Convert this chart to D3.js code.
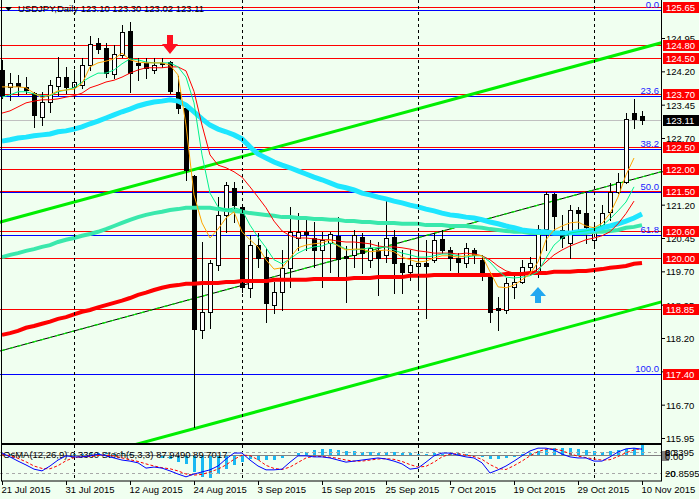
<!DOCTYPE html>
<html><head><meta charset="utf-8">
<script src="https://cdn.jsdelivr.net/npm/d3@7/dist/d3.min.js"></script>
<style>
html,body{margin:0;padding:0;background:#f0fff0;overflow:hidden;}
svg{display:block;}
</style></head><body>
<svg id="chart" width="699" height="499"></svg>
<script>
// ---------------- DATA ----------------
const titleText = "USDJPY,Daily 123.10 123.30 123.02 123.11";
const panelText = "OsMA(12,26,9) 0.3360 Stoch(5,3,3) 87.9490 89.7017";

const dateLabels = ["21 Jul 2015","31 Jul 2015","12 Aug 2015","24 Aug 2015","3 Sep 2015","15 Sep 2015","25 Sep 2015","7 Oct 2015","19 Oct 2015","29 Oct 2015","10 Nov 2015"];
const dateTickBars = [0,8,16,24,32,40,48,56,64,72,80];
const separatorBars = [9,30,52,74];

const open = [124.23,123.85,123.93,123.85,123.71,123.17,123.51,123.87,124.07,123.85,
123.89,124.34,124.84,124.72,124.14,124.57,125.11,124.39,124.39,124.23,
124.39,124.41,123.73,123.37,121.85,118.38,118.78,119.84,120.97,121.57,
121.15,119.33,120.29,120.02,118.95,119.24,119.78,120.45,120.58,120.45,
120.18,120.34,120.49,120.05,120.07,120.47,119.95,120.18,120.07,120.47,
119.89,119.69,119.82,119.89,119.95,120.43,120.18,120.00,119.89,120.18,
119.95,119.66,118.87,118.83,119.35,119.46,119.80,119.66,120.65,121.44,
120.63,120.34,121.08,121.01,120.40,120.70,121.03,121.49,121.71,123.26,
123.19];
const high = [124.45,124.16,124.12,124.07,123.73,123.73,124.00,124.52,124.30,124.23,
124.50,125.00,124.95,124.84,124.79,125.24,125.31,124.50,124.50,124.50,
124.50,124.43,124.10,123.40,121.87,120.36,119.95,121.37,121.71,121.71,
121.20,120.52,120.56,120.22,119.46,120.18,121.15,121.01,120.85,120.81,
120.58,120.58,120.92,120.27,120.63,120.56,120.40,120.36,121.30,120.63,
120.18,120.18,120.56,120.40,120.56,120.63,120.25,120.11,120.34,120.22,
120.07,119.69,119.12,119.55,119.66,119.95,120.02,120.74,121.49,121.46,
120.97,121.19,121.15,121.46,120.79,121.19,121.69,121.91,123.26,123.58,
123.30];
const low = [123.60,123.55,123.67,123.71,122.95,122.99,123.28,123.67,123.71,123.71,
123.82,124.23,124.61,124.07,124.05,124.52,123.73,124.00,124.05,124.16,
124.30,123.71,123.26,121.76,116.20,118.20,118.42,119.73,120.58,120.81,
119.24,119.12,119.80,118.56,118.76,118.83,119.35,120.18,120.18,119.80,
119.35,119.69,119.57,119.00,119.80,119.66,119.80,119.17,119.91,119.21,
119.21,119.50,119.35,118.65,119.91,120.11,119.73,119.66,119.80,119.89,
119.50,118.56,118.38,118.76,119.10,119.44,119.66,119.57,120.18,120.63,
120.25,120.00,120.58,120.34,120.25,120.67,120.85,121.46,121.69,122.92,
123.02];
const close = [123.67,123.93,123.87,123.78,123.22,123.51,123.89,124.07,123.85,123.96,
124.34,124.81,124.70,124.16,124.59,125.08,124.16,124.34,124.27,124.34,
124.36,123.76,123.37,121.98,118.40,118.78,119.89,120.97,121.64,121.19,
119.35,120.29,120.00,118.99,119.24,119.78,120.58,120.58,120.54,120.18,
120.40,120.54,119.98,120.00,120.52,120.11,120.22,120.00,120.45,119.89,
119.69,119.84,119.89,119.82,120.40,120.18,120.00,119.91,120.22,120.07,
119.69,118.78,118.82,119.44,119.46,119.80,119.89,120.65,121.44,120.94,
120.45,121.08,121.01,120.70,120.70,121.01,121.49,121.71,123.13,123.13,
123.11];

// moving averages
const maOrange = [123.85,123.85,123.85,123.83,123.71,123.60,123.67,123.76,123.78,123.80,
123.92,124.30,124.39,124.43,124.48,124.61,124.46,124.41,124.39,124.39,
124.39,124.34,124.12,122.99,121.42,120.79,120.45,120.65,120.90,121.04,
120.59,120.41,120.25,119.96,119.75,119.78,120.00,120.23,120.29,120.32,
120.34,120.41,120.27,120.18,120.20,120.20,120.14,120.16,120.18,120.14,
120.02,119.96,119.91,119.93,120.00,120.05,120.05,120.02,120.05,120.07,
120.05,119.69,119.35,119.33,119.39,119.51,119.64,119.91,120.41,120.63,
120.72,120.79,120.81,120.72,120.68,120.78,121.00,121.37,121.87,122.25,null];
const maGreen = [123.62,123.67,123.74,123.74,123.69,123.65,123.65,123.74,123.78,123.83,
123.96,124.07,124.16,124.16,124.23,124.37,124.48,124.46,124.41,124.39,
124.39,124.39,124.30,124.07,123.49,122.32,121.46,121.15,121.08,121.13,
121.08,120.74,120.47,120.23,119.96,119.87,119.98,120.11,120.20,120.25,
120.27,120.34,120.29,120.20,120.18,120.20,120.23,120.23,120.25,120.18,
120.11,120.07,120.02,120.02,120.05,120.09,120.09,120.05,120.02,120.05,
120.05,119.91,119.71,119.57,119.55,119.57,119.60,119.69,120.00,120.29,
120.45,120.56,120.59,120.61,120.65,120.72,120.88,121.06,121.26,121.60,null];
const maRedThin = [123.26,123.31,123.40,123.49,123.53,123.56,123.56,123.58,123.62,123.65,
123.71,123.83,123.89,123.96,124.00,124.07,124.16,124.23,124.28,124.28,
124.28,124.30,124.30,124.21,123.75,122.99,122.32,122.09,122.03,121.94,
121.82,121.60,121.37,121.13,120.83,120.61,120.50,120.45,120.45,120.43,
120.41,120.41,120.38,120.36,120.36,120.34,120.32,120.27,120.25,120.25,
120.23,120.20,120.16,120.14,120.11,120.11,120.11,120.09,120.11,120.09,
120.05,119.96,119.82,119.71,119.66,119.66,119.66,119.75,119.91,120.07,
120.18,120.27,120.34,120.41,120.45,120.50,120.59,120.77,121.00,121.28,null];
const maCyan = [122.63,122.66,122.70,122.72,122.75,122.77,122.79,122.84,122.86,122.90,
122.95,123.02,123.08,123.15,123.22,123.29,123.35,123.42,123.47,123.51,
123.53,123.56,123.53,123.44,123.29,123.13,122.99,122.90,122.84,122.77,
122.68,122.50,122.34,122.25,122.16,122.09,122.03,121.96,121.89,121.82,
121.76,121.69,121.62,121.58,121.53,121.46,121.42,121.37,121.33,121.28,
121.24,121.19,121.15,121.10,121.06,121.01,120.97,120.95,120.92,120.90,
120.86,120.81,120.77,120.72,120.68,120.63,120.61,120.59,120.59,120.56,
120.56,120.56,120.59,120.61,120.63,120.68,120.72,120.77,120.83,120.90,
120.99];
const maAqua = [120.02,120.07,120.11,120.16,120.20,120.25,120.29,120.36,120.41,120.45,
120.50,120.54,120.59,120.65,120.72,120.79,120.86,120.92,120.97,121.01,
121.04,121.08,121.10,121.13,121.13,121.13,121.13,121.10,121.08,121.06,
121.04,121.01,120.99,120.97,120.95,120.92,120.92,120.90,120.90,120.88,
120.88,120.86,120.86,120.83,120.83,120.81,120.81,120.79,120.79,120.79,
120.77,120.77,120.77,120.74,120.74,120.74,120.72,120.72,120.72,120.70,
120.68,120.65,120.63,120.61,120.59,120.59,120.56,120.56,120.56,120.56,
120.56,120.56,120.56,120.56,120.59,120.59,120.61,120.63,120.68,120.70,
120.74];
const maRedThick = [118.27,118.31,118.36,118.43,118.47,118.52,118.57,118.63,118.67,118.73,
118.79,118.83,118.89,118.94,118.99,119.04,119.10,119.17,119.22,119.28,
119.33,119.37,119.39,119.42,119.42,119.44,119.44,119.44,119.46,119.46,
119.48,119.48,119.48,119.48,119.51,119.51,119.51,119.51,119.51,119.53,
119.53,119.53,119.53,119.53,119.55,119.55,119.55,119.57,119.57,119.57,
119.57,119.60,119.60,119.60,119.62,119.62,119.62,119.62,119.62,119.62,
119.62,119.62,119.62,119.64,119.64,119.64,119.66,119.66,119.66,119.69,
119.69,119.69,119.71,119.71,119.73,119.75,119.78,119.80,119.82,119.87,
119.89];

// horizontal levels, fibonacci levels, channel
const levels = [125.65,124.80,124.50,123.70,122.50,122.00,121.50,120.60,120.00,118.85,117.40];
const fibLabels = ["0.0","23.6","38.2","50.0","61.8","100.0"];
const fibPrices = [125.58,123.645,122.45,121.48,120.51,117.38];
const channelUpper = [[-1,120.77],[83,124.87]];
const channelMiddle = [[-1,117.87],[83,121.97]];
const channelLower = [[-1,114.94],[83,119.04]];
const axisTicks = [124.95,124.20,123.45,122.70,121.95,121.20,120.45,119.70,118.95,118.20,117.45,116.70,115.95];
const arrowDown = {bar:21, price:124.59};
const arrowUp = {bar:67, price:119.35};

// indicator panel
const osma = [0.03,0.02,0.01,0.00,-0.02,-0.03,-0.02,0.00,0.01,0.02,
0.03,0.05,0.06,0.05,0.04,0.05,0.03,0.01,0.00,-0.03,
-0.09,-0.15,-0.23,-0.32,-0.57,-0.77,-0.78,-0.64,-0.47,-0.35,
-0.24,-0.12,-0.17,-0.18,-0.17,-0.09,0.00,0.06,0.11,0.17,
0.19,0.19,0.17,0.14,0.14,0.11,0.10,0.08,0.11,0.11,
0.08,0.06,0.03,0.04,0.06,0.04,0.06,0.07,0.02,0.01,
-0.06,-0.13,-0.15,-0.09,-0.07,0.02,0.06,0.14,0.19,0.23,
0.23,0.23,0.19,0.17,0.14,0.11,0.13,0.16,0.19,0.23,
0.336];
const stochMain = [77,66,54,43,31,26,40,57,69,66,
66,69,74,69,63,57,54,49,34,37,
34,26,17,9,17,23,29,40,60,77,
77,57,40,29,29,31,51,69,69,66,
66,63,57,51,54,57,60,63,60,54,
46,31,34,51,69,77,77,71,66,63,
49,20,29,40,54,69,83,91,91,86,
74,66,63,63,54,54,66,80,89,91,
87.95];
const stochSignal = [72,70,62,52,40,33,32,41,55,64,
67,67,70,71,69,63,58,53,46,40,
35,32,26,17,14,16,23,31,43,59,
71,70,58,42,33,30,37,50,63,68,
67,65,62,57,54,54,57,60,61,59,
53,44,37,39,51,66,74,75,71,67,
59,44,33,30,41,54,69,81,88,89,
84,75,68,64,60,57,58,67,78,86,
89.70];
const stochLevels = [80,20];
const osmaRange = [-0.8595,0.3395];

// ---------------- DRAW ----------------
const FONT = "'Liberation Sans', Arial, sans-serif";
const svg = d3.select("#chart").attr("font-family", FONT);
svg.append("rect").attr("width",699).attr("height",499).attr("fill","#f0fff0");

const plotR = 661, mainB = 443, panT = 445, panB = 481;
const x = d3.scaleLinear().domain([0,80]).range([2,642]);
const y = d3.scaleLinear().domain([115.95,124.95]).range([438,38]);
const yS = d3.scaleLinear().domain([0,100]).range([480,445]);
const yO = d3.scaleLinear().domain(osmaRange).range([480,445]);
const crisp = v => Math.round(v) + 0.5;

const defs = svg.append("defs");
defs.append("clipPath").attr("id","mc").append("rect").attr("x",0).attr("y",0).attr("width",plotR).attr("height",mainB);
defs.append("clipPath").attr("id","pc").append("rect").attr("x",0).attr("y",panT).attr("width",plotR).attr("height",panB-panT);

const main = svg.append("g").attr("clip-path","url(#mc)");

// period separators
[[0,mainB],[panT,panB]].forEach(([a,b]) => {
  svg.append("g").selectAll("line").data(separatorBars).join("line")
    .attr("x1",d=>crisp(x(d))).attr("x2",d=>crisp(x(d))).attr("y1",a).attr("y2",b)
    .attr("stroke","#000").attr("stroke-dasharray","3,3");
});

// level lines
main.append("g").selectAll("line").data(levels).join("line")
  .attr("x1",0).attr("x2",plotR).attr("y1",d=>crisp(y(d))).attr("y2",d=>crisp(y(d)))
  .attr("stroke","#ff0000");
main.append("g").selectAll("line").data(fibPrices).join("line")
  .attr("x1",0).attr("x2",plotR).attr("y1",d=>crisp(y(d))).attr("y2",d=>crisp(y(d)))
  .attr("stroke","#0000ff");
// current price line
main.append("line").attr("x1",0).attr("x2",plotR)
  .attr("y1",crisp(y(close[close.length-1]))).attr("y2",crisp(y(close[close.length-1])))
  .attr("stroke","#c0c0c0");

// channel
const cline = d3.line().x(d=>x(d[0])).y(d=>y(d[1]));
main.append("path").attr("d",cline(channelUpper)).attr("stroke","#00ee00").attr("stroke-width",3).attr("fill","none");
main.append("path").attr("d",cline(channelLower)).attr("stroke","#00ee00").attr("stroke-width",3).attr("fill","none");
main.append("path").attr("d",cline(channelMiddle)).attr("stroke","#000").attr("stroke-width",1).attr("fill","none");
main.append("path").attr("d",cline(channelMiddle)).attr("stroke","#00ee00").attr("stroke-width",1.2).attr("stroke-dasharray","4,4").attr("fill","none");

// candles
const idx = d3.range(open.length);
const cg = main.append("g");
cg.selectAll("line").data(idx).join("line")
  .attr("x1",i=>Math.round(x(i))+0.5).attr("x2",i=>Math.round(x(i))+0.5)
  .attr("y1",i=>Math.round(y(high[i]))).attr("y2",i=>Math.round(y(low[i]))+1)
  .attr("stroke","#000");
cg.selectAll("rect").data(idx).join("rect")
  .attr("x",i=>Math.round(x(i))-1.5).attr("width",4)
  .attr("y",i=>Math.round(y(Math.max(open[i],close[i])))+0.5)
  .attr("height",i=>Math.max(1,Math.round(y(Math.min(open[i],close[i])))-Math.round(y(Math.max(open[i],close[i])))))
  .attr("fill",i=>close[i]<open[i]?"#000":"#fff").attr("stroke","#000");

// moving averages
const maLine = d3.line().defined(d=>d!=null).x((d,i)=>x(i)).y(d=>y(d));
[[maRedThick,"#ff0000",4],[maAqua,"#3ae8ac",4],[maCyan,"#1ee6ff",5],
 [maRedThin,"#ff0000",1],[maGreen,"#00f08c",1],[maOrange,"#ffa500",1]].forEach(([arr,col,w])=>{
  main.append("path").attr("d",maLine(arr)).attr("fill","none").attr("stroke",col).attr("stroke-width",w);
});

// arrows
const ax1 = x(arrowDown.bar), ay1 = y(arrowDown.price);
svg.append("path").attr("fill","#ff1020")
  .attr("d",`M${ax1-3},${ay1-19}L${ax1+3},${ay1-19}L${ax1+3},${ay1-10}L${ax1+8},${ay1-10}L${ax1},${ay1}L${ax1-8},${ay1-10}L${ax1-3},${ay1-10}Z`);
const ax2 = x(arrowUp.bar), ay2 = y(arrowUp.price);
svg.append("path").attr("fill","#22a8f0")
  .attr("d",`M${ax2},${ay2}L${ax2+8},${ay2+9}L${ax2+3},${ay2+9}L${ax2+3},${ay2+16}L${ax2-3},${ay2+16}L${ax2-3},${ay2+9}L${ax2-8},${ay2+9}Z`);

// fib labels
svg.append("g").selectAll("text").data(fibPrices).join("text")
  .attr("x",659).attr("y",d=>Math.round(y(d))-2.5).attr("text-anchor","end")
  .attr("font-size","9.5px").attr("fill","#1a1aff").text((d,i)=>fibLabels[i]);

// title
svg.append("path").attr("d","M5,7L12,7L8.5,11Z").attr("fill","#000");
svg.append("text").attr("x",18).attr("y",11.5).attr("font-size","9.5px").attr("fill","#000").text(titleText);

// borders
svg.append("line").attr("x1",1.5).attr("x2",1.5).attr("y1",0).attr("y2",mainB).attr("stroke","#000");
svg.append("line").attr("x1",plotR+0.5).attr("x2",plotR+0.5).attr("y1",0).attr("y2",mainB+1).attr("stroke","#000");
svg.append("line").attr("x1",1).attr("x2",plotR+1).attr("y1",mainB+0.5).attr("y2",mainB+0.5).attr("stroke","#000");

// right axis
const axR = svg.append("g").attr("transform",`translate(${plotR},0)`)
  .call(d3.axisRight(y).tickValues(axisTicks).tickSize(4).tickPadding(1).tickFormat(d3.format(".2f")));
axR.select(".domain").remove();
axR.attr("font-family",FONT).attr("font-size",9.5);
axR.selectAll("text").attr("dy",null).attr("y",3.5).attr("fill","#000");

// level boxes
const boxes = svg.append("g");
levels.forEach(p=>{
  const yy = Math.round(y(p));
  boxes.append("rect").attr("x",663).attr("y",yy-5).attr("width",36).attr("height",11).attr("fill","#ff0000");
  boxes.append("text").attr("x",666).attr("y",yy+4).attr("font-size","9.5px").attr("fill","#fff").text(d3.format(".2f")(p));
});
{
  const p = close[close.length-1], yy = Math.round(y(p));
  boxes.append("rect").attr("x",663).attr("y",yy-5).attr("width",36).attr("height",11).attr("fill","#000");
  boxes.append("text").attr("x",666).attr("y",yy+4).attr("font-size","9.5px").attr("fill","#fff").text(d3.format(".2f")(p));
}

// ---------- indicator panel ----------
const pg = svg.append("g").attr("clip-path","url(#pc)");
pg.selectAll("rect").data(osma).join("rect")
  .attr("x",(d,i)=>Math.round(x(i))-1).attr("width",3)
  .attr("y",d=>Math.round(Math.min(yO(d),yO(0))))
  .attr("height",d=>Math.round(Math.abs(yO(d)-yO(0))))
  .attr("fill","#1ab8f2");
pg.selectAll("line.lv").data(stochLevels).join("line").attr("class","lv")
  .attr("x1",0).attr("x2",plotR).attr("y1",d=>crisp(yS(d))).attr("y2",d=>crisp(yS(d)))
  .attr("stroke","#a8a8a8").attr("stroke-dasharray","3,3");
pg.append("line").attr("x1",0).attr("x2",plotR).attr("y1",crisp(yO(0))).attr("y2",crisp(yO(0))).attr("stroke","#808080");
pg.append("text").attr("x",3).attr("y",458).attr("font-size","9.5px").attr("fill","#000").text(panelText);
const sLine = d3.line().x((d,i)=>x(i)).y(d=>yS(d));
pg.append("path").attr("d",sLine(stochSignal)).attr("fill","none").attr("stroke","#ff0000").attr("stroke-dasharray","3,2");
pg.append("path").attr("d",sLine(stochMain)).attr("fill","none").attr("stroke","#0000ff");

svg.append("rect").attr("x",1.5).attr("y",panT-0.5).attr("width",plotR-1).attr("height",panB-panT+0.5)
  .attr("fill","none").attr("stroke","#000");

// panel right labels
const pl = svg.append("g").attr("font-size","9.5px").attr("fill","#000");
pl.append("rect").attr("x",662).attr("y",451).attr("width",7).attr("height",10).attr("fill","#808080");
pl.append("text").attr("x",665).attr("y",456).text(d3.format(".4f")(osmaRange[1]));
pl.append("text").attr("x",665).attr("y",456).text(String(stochLevels[0]));
pl.append("text").attr("x",665).attr("y",460).text("0.00");
pl.append("text").attr("x",665).attr("y",477).text(d3.format(".4f")(osmaRange[0]));
pl.append("text").attr("x",665).attr("y",477).text(String(stochLevels[1]));

// date axis
const axB = svg.append("g").attr("transform",`translate(0,${panB})`)
  .call(d3.axisBottom(x).tickValues(dateTickBars).tickSize(4).tickPadding(1)
    .tickFormat(d=>dateLabels[dateTickBars.indexOf(d)]));
axB.select(".domain").remove();
axB.attr("font-family",FONT).attr("font-size",9.5);
axB.selectAll("text").attr("text-anchor","start").attr("dx",-1).attr("fill","#000");
</script>
</body></html>
